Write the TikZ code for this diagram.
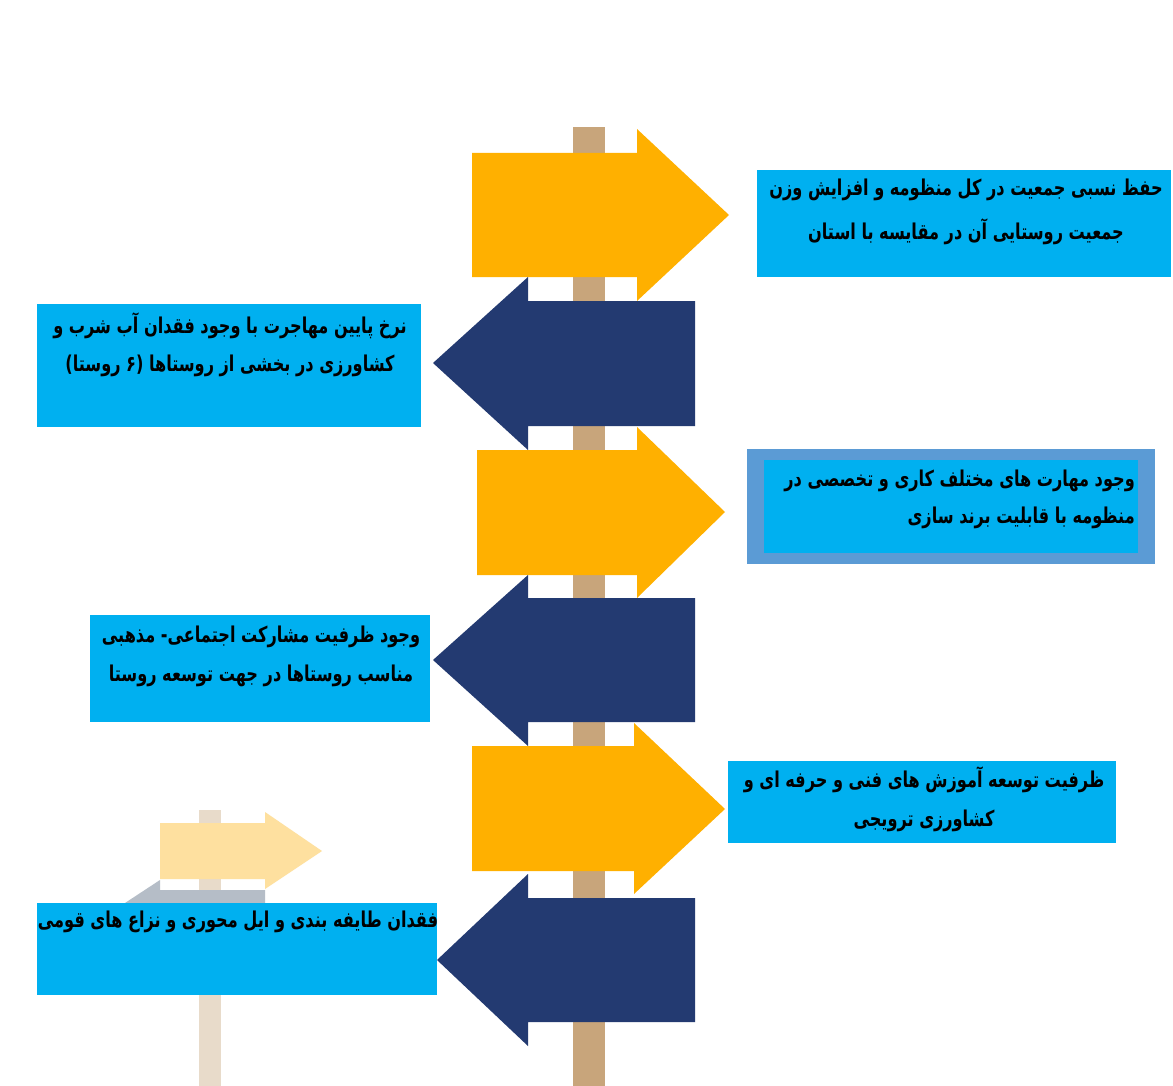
\documentclass[tikz,border=0pt]{standalone}
\usepackage{fontspec}
\newfontfamily\fa[Script=Arabic,FakeStretch=0.74]{DejaVu Sans}
\TeXXeTstate=1
\definecolor{signyellow}{HTML}{FFB000}
\definecolor{signnavy}{HTML}{233A71}
\definecolor{poletan}{HTML}{C8A57B}
\definecolor{boxcyan}{HTML}{00B0F0}
\definecolor{framblue}{HTML}{5B9BD5}
\definecolor{paleyellow}{HTML}{FEE09F}
\definecolor{paletan}{HTML}{E8DBCA}
\definecolor{palegray}{HTML}{B5BDC7}
\tikzset{
  txt/.style={font=\fa\bfseries\fontsize{21.8}{24}\selectfont, text=black, inner sep=0pt},
}
\newcommand{\rl}[1]{\beginR #1\endR}
\begin{document}
\begin{tikzpicture}[x=1pt,y=-1pt]
\useasboundingbox (0,0) rectangle (1173,1086);
\fill[white] (0,0) rectangle (1173,1086);
% small background signpost
\fill[paletan] (199,810) rectangle (221,1086);
\fill[paleyellow] (160,823) -- (265,823) -- (265,812) -- (322,851) -- (265,889) -- (265,879) -- (160,879) -- cycle;
\fill[palegray] (265,890) -- (160,890) -- (160,880) -- (90,926) -- (160,972) -- (160,962) -- (265,962) -- cycle;
% main pole
\fill[poletan] (573,127) rectangle (605,1086);
% arrows
\fill[signyellow] (472,153) -- (637,153) -- (637,129) -- (729,215) -- (637,301) -- (637,277) -- (472,277) -- cycle;
\fill[signnavy] (695,301) -- (528,301) -- (528,277) -- (433,363) -- (528,450) -- (528,426) -- (695,426) -- cycle;
\fill[signyellow] (477,450) -- (637,450) -- (637,427) -- (725,512) -- (637,598) -- (637,575) -- (477,575) -- cycle;
\fill[signnavy] (695,598) -- (528,598) -- (528,575) -- (433,660) -- (528,746) -- (528,722) -- (695,722) -- cycle;
\fill[signyellow] (472,746) -- (634,746) -- (634,723) -- (725,809) -- (634,894) -- (634,871) -- (472,871) -- cycle;
\fill[signnavy] (695,898) -- (528,898) -- (528,874) -- (437,960) -- (528,1046) -- (528,1022) -- (695,1022) -- cycle;
% text boxes
\fill[boxcyan] (757,170) rectangle (1171,277);
\fill[boxcyan] (37,304) rectangle (421,427);
\fill[framblue] (747,449) rectangle (1155,564);
\fill[boxcyan] (764,460) rectangle (1138,553);
\fill[boxcyan] (90,615) rectangle (430,722);
\fill[boxcyan] (728,761) rectangle (1116,843);
\fill[boxcyan] (37,903) rectangle (437,995);
% texts
\node[txt] (t1a) at (966,190) {\rl{حفظ نسبی جمعیت در کل منظومه و افزایش وزن}};
\node[txt] (t1b) at (966,232) {\rl{جمعیت روستایی آن در مقایسه با استان}};
\node[txt] (t2a) at (230,326) {\rl{نرخ پایین مهاجرت با وجود فقدان آب شرب و}};
\node[txt] (t2b) at (230,366) {\rl{کشاورزی در بخشی از روستاها (۶ روستا)}};
\node[txt, anchor=east] (t3a) at (1135,481) {\rl{وجود مهارت های مختلف کاری و تخصصی در}};
\node[txt, anchor=east] (t3b) at (1135,518) {\rl{منظومه با قابلیت برند  سازی}};
\node[txt] (t4a) at (261,637) {\rl{وجود ظرفیت مشارکت اجتماعی- مذهبی}};
\node[txt] (t4b) at (261,676) {\rl{مناسب روستاها در جهت توسعه روستا}};
\node[txt] (t5a) at (924,780) {\rl{ظرفیت توسعه آموزش های فنی و حرفه ای و}};
\node[txt] (t5b) at (924,821) {\rl{کشاورزی ترویجی}};
\node[txt] (t6a) at (238,922) {\rl{فقدان طایفه بندی و ایل محوری و نزاع های قومی}};
\end{tikzpicture}
\end{document}
